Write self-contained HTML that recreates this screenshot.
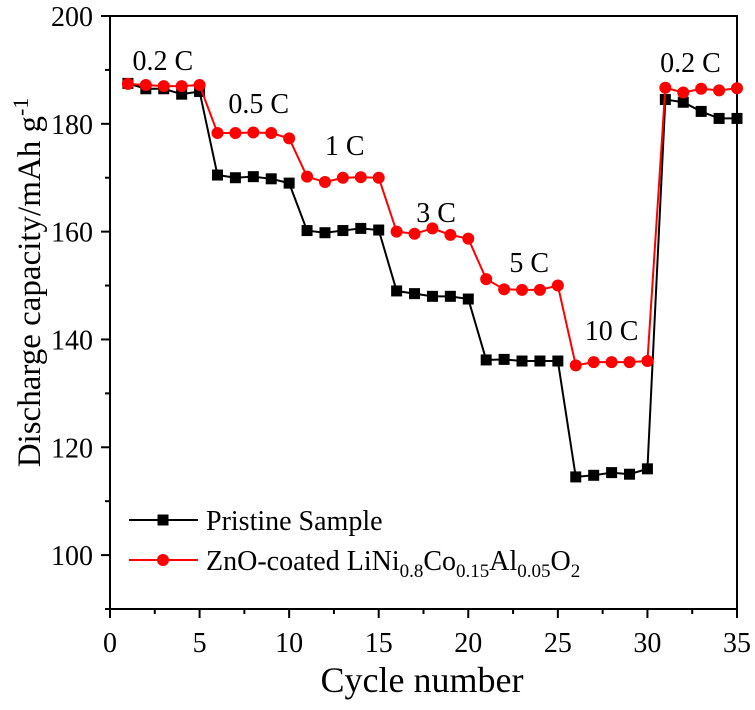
<!DOCTYPE html>
<html><head><meta charset="utf-8"><style>
body{margin:0;background:#fff}
svg, svg text, svg tspan{font-family:"Liberation Serif","Times New Roman",serif !important;fill:#000}
</style></head><body>
<svg id="chart" width="755" height="705" xmlns="http://www.w3.org/2000/svg" font-family="Liberation Serif, serif"></svg>
<script>
const cycles=[1,2,3,4,5,6,7,8,9,10,11,12,13,14,15,16,17,18,19,20,21,22,23,24,25,26,27,28,29,30,31,32,33,34,35];
const pristine=[187.5,186.5,186.5,185.5,186,170.5,170,170.2,169.8,169,160.2,159.8,160.2,160.6,160.3,149,148.5,148,148,147.5,136.2,136.3,136,136,136,114.5,114.8,115.3,115,116,184.5,184,182.3,181,181];
const coated=[187.4,187.2,187,187,187.2,178.3,178.3,178.4,178.3,177.3,170.2,169.2,170,170.1,170,160,159.6,160.6,159.4,158.7,151.2,149.3,149.2,149.2,150,135.2,135.8,135.8,135.8,136,186.7,185.8,186.5,186.2,186.6];
const xTicks=[0,5,10,15,20,25,30,35];
const xMinor=[2.5,7.5,12.5,17.5,22.5,27.5,32.5];
const yTicks=[100,120,140,160,180,200];
const yMinor=[90,110,130,150,170,190];
const rateLabels=["0.2 C","0.5 C","1 C","3 C","5 C","10 C","0.2 C"];
const rateLabelX=[2.95,8.3,13.1,18.2,23.4,28,32.4];
const rateLabelY=[190,182,174.2,161.8,152.5,139.9,189.6];

const svg=document.getElementById('chart');
const NS="http://www.w3.org/2000/svg";
const L=110,R=737,T=16,B=609,X0=0,X1=35,Y0=90,Y1=200;
const sx=v=>L+(v-X0)/(X1-X0)*(R-L);
const sy=v=>B-(v-Y0)/(Y1-Y0)*(B-T);
function mk(tag,attrs,parent){const e=document.createElementNS(NS,tag);for(const k in attrs)e.setAttribute(k,attrs[k]);if(tag==='text')e.setAttribute('font-family','Liberation Serif, serif');(parent||svg).appendChild(e);return e;}

const frame=mk('rect',{x:L,y:T,width:R-L,height:B-T,fill:'none',stroke:'#000','stroke-width':2});



xTicks.forEach(t=>{
  const ln=mk('line',{x1:sx(t),x2:sx(t),y1:B,y2:B+9,stroke:'#000','stroke-width':2});
  
  
  const tx=mk('text',{x:sx(t),y:B+43,'text-anchor':'middle','font-size':28});
  tx.textContent=t;
  
  
});
xMinor.forEach(t=>{
  const ln=mk('line',{x1:sx(t),x2:sx(t),y1:B,y2:B+5,stroke:'#000','stroke-width':2});
  
  
});
yTicks.forEach(t=>{
  const ln=mk('line',{x1:L-9,x2:L,y1:sy(t),y2:sy(t),stroke:'#000','stroke-width':2});
  
  
  const tx=mk('text',{x:L-17,y:sy(t)+10,'text-anchor':'end','font-size':28});
  tx.textContent=t;
  
  
});
yMinor.forEach(t=>{
  const ln=mk('line',{x1:L-5,x2:L,y1:sy(t),y2:sy(t),stroke:'#000','stroke-width':2});
  
  
});
const xt=mk('text',{x:422,y:692,'text-anchor':'middle','font-size':36});
xt.textContent='Cycle number';


const yt=mk('text',{x:0,y:0,'text-anchor':'middle','font-size':33,transform:`translate(40,${(T+B)/2-30}) rotate(-90)`});
yt.innerHTML='Discharge capacity/mAh g<tspan dy="-12" font-size="22">-1</tspan>';



function series(vals,color,marker,name){
  const g=mk('g',{});
  
  
  mk('polyline',{points:vals.map((v,i)=>sx(cycles[i])+','+sy(v)).join(' '),fill:'none',stroke:color,'stroke-width':2},g);
  vals.forEach((v,i)=>{
    let m;
    if(marker==='sq') m=mk('rect',{x:sx(cycles[i])-5.5,y:sy(v)-5.5,width:11,height:11,fill:color},g);
    else m=mk('circle',{cx:sx(cycles[i]),cy:sy(v),r:6,fill:color},g);
    
    
  });
}
series(pristine,'#000','sq','pristine-series');
series(coated,'#ff0000','ci','zno-coated-series');

rateLabels.forEach((s,i)=>{
  const tx=mk('text',{x:sx(rateLabelX[i]),y:sy(rateLabelY[i]),'text-anchor':'middle','font-size':28});
  tx.textContent=s;
  
  
});

const lg=mk('g',{});


mk('line',{x1:129,x2:198,y1:520,y2:520,stroke:'#000','stroke-width':2},lg);
mk('rect',{x:157.5,y:514.5,width:11,height:11,fill:'#000'},lg);
const l1=mk('text',{x:206,y:530,'font-size':28},lg);l1.textContent='Pristine Sample';


mk('line',{x1:129,x2:198,y1:560,y2:560,stroke:'#ff0000','stroke-width':2},lg);
mk('circle',{cx:163,cy:560,r:6,fill:'#ff0000'},lg);
const l2=mk('text',{x:206,y:570,'font-size':28},lg);
l2.innerHTML='ZnO-coated LiNi<tspan dy="7" font-size="19">0.8</tspan><tspan dy="-7">Co</tspan><tspan dy="7" font-size="19">0.15</tspan><tspan dy="-7">Al</tspan><tspan dy="7" font-size="19">0.05</tspan><tspan dy="-7">O</tspan><tspan dy="7" font-size="19">2</tspan>';


</script>
</body></html>
